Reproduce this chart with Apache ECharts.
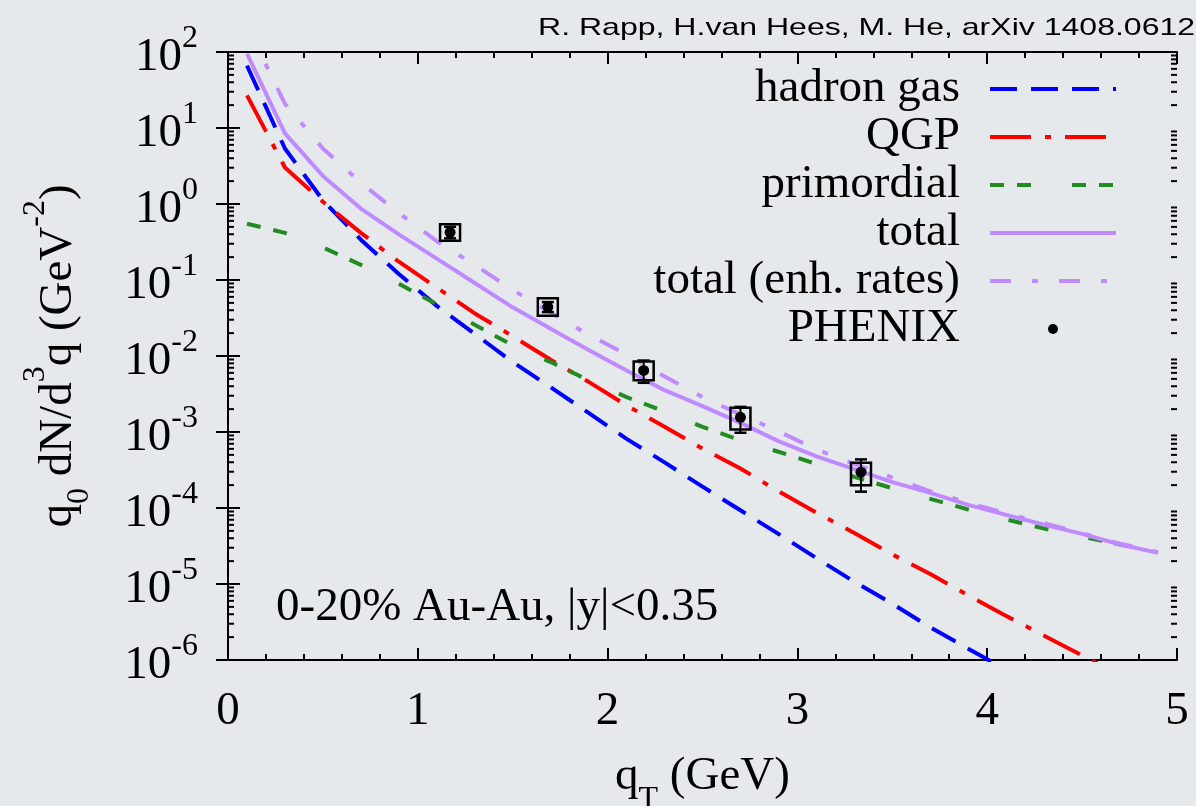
<!DOCTYPE html>
<html><head><meta charset="utf-8">
<script src="https://cdn.jsdelivr.net/npm/echarts@6/dist/echarts.min.js"></script>
<style>html,body{margin:0;padding:0;background:#e6e9ec;} #c{width:1196px;height:806px;}</style>
</head><body><div id="c"></div>
<script>
// ---- data ----
const qT = [0.1,0.3,0.5,0.7,0.9,1.1,1.3,1.5,1.7,1.9,2.1,2.3,2.5,2.7,2.9,3.1,3.3,3.5,3.7,3.9,4.1,4.3,4.5,4.7,4.9];
const hadronGas = [66.1,5.37,1.12,0.339,0.120,0.0457,0.0195,8.32e-3,3.89e-3,1.78e-3,8.13e-4,3.98e-4,1.91e-4,9.33e-5,4.57e-5,2.19e-5,1.07e-5,5.50e-6,2.69e-6,1.41e-6,7.41e-7];
const qgp = [26.9,3.02,1.07,0.417,0.174,0.0794,0.0363,0.0182,8.91e-3,4.57e-3,2.24e-3,1.17e-3,6.03e-4,3.31e-4,1.66e-4,8.71e-5,4.68e-5,2.45e-5,1.35e-5,7.08e-6,3.80e-6,2.09e-6,1.15e-6,6.31e-7];
const primordial = [0.550,0.417,0.269,0.158,0.0891,0.0479,0.0257,0.0138,8.32e-3,4.79e-3,2.88e-3,1.86e-3,1.17e-3,7.76e-4,5.50e-4,3.80e-4,2.57e-4,1.82e-4,1.32e-4,9.55e-5,7.08e-5,5.37e-5,4.17e-5,3.31e-5,2.57e-5];
const total = [95.5,8.51,2.34,0.871,0.398,0.191,0.0912,0.0437,0.0229,0.0120,6.46e-3,3.55e-3,2.19e-3,1.32e-3,7.59e-4,4.79e-4,3.24e-4,2.19e-4,1.58e-4,1.10e-4,8.13e-5,6.03e-5,4.57e-5,3.31e-5,2.57e-5];
const totalEnh = [219,20.9,5.37,1.91,0.759,0.324,0.158,0.0741,0.0372,0.0191,0.0105,5.37e-3,2.88e-3,1.70e-3,1.02e-3,5.89e-4,3.80e-4,2.51e-4,1.66e-4,1.17e-4,8.51e-5,6.31e-5,4.68e-5,3.39e-5,2.63e-5];
// PHENIX points
const phxX = [1.17,1.685,2.19,2.70,3.335];
const phxY = [0.424,0.0440,0.00646,0.00156,2.96e-4];
const phxStatLo = [0.353,0.0378,0.00444,0.000977,1.64e-4];
const phxStatHi = [0.502,0.0512,0.00871,0.00214,4.36e-4];
const phxSysLo = [0.329,0.0338,0.00479,0.00108,1.99e-4];
const phxSysHi = [0.540,0.0577,0.00849,0.00208,3.94e-4];
// axis ticks
const xTickLabels = ['0','1','2','3','4','5'];
const yDecades = [-6,-5,-4,-3,-2,-1,0,1];
const yMinorFactors = [2,3,4,5,6,7,8,9];

const SERIF = "'Liberation Serif','Times New Roman',serif";
const chart = echarts.init(document.getElementById('c'));
function pairs(arr){ return arr.map((v,i)=>[qT[i], v]); }
const minorVals = [];
yDecades.forEach(d => yMinorFactors.forEach(f => minorVals.push([0, f*Math.pow(10,d)])));
const phxData = phxX.map((x,i)=>[x, phxY[i], phxStatLo[i], phxStatHi[i], phxSysLo[i], phxSysHi[i]]);

const axisLineStyle = {color:'#000', width:2};
const tickStyle = {color:'#000', width:2};
const yRich = {
  b:{fontSize:47, fontFamily:SERIF, color:'#000', verticalAlign:'bottom'},
  s:{fontSize:32, fontFamily:SERIF, color:'#000', verticalAlign:'bottom', padding:[0,0,26,0]}
};
function yFmt(v){ const e = Math.round(Math.log10(v)); return '{b|10}{s|' + e + '}'; }

const option = {
  backgroundColor:'#e6e9ec',
  animation:false,
  grid:{left:228, top:52, right:19, bottom:146, containLabel:false, outerBoundsMode:'none'},
  xAxis:[{
    type:'value', min:0, max:5, interval:1, position:'bottom',
    axisLine:{lineStyle:axisLineStyle}, axisTick:{inside:true, length:12, lineStyle:tickStyle},
    minorTick:{show:true, splitNumber:5, length:6, lineStyle:tickStyle},
    splitLine:{show:false}, minorSplitLine:{show:false},
    axisLabel:{fontSize:47, fontFamily:SERIF, color:'#000', margin:28, formatter:(v)=>xTickLabels[Math.round(v)]},
    name:'{b|q}{sub|T}{b| (GeV)}', nameLocation:'middle', nameGap:93,
    nameTextStyle:{rich:{
      b:{fontSize:47, fontFamily:SERIF, color:'#000', verticalAlign:'bottom', padding:[0,0,16,0]},
      sub:{fontSize:32, fontFamily:SERIF, color:'#000', verticalAlign:'bottom'}
    }}
  },{
    type:'value', min:0, max:5, interval:1, position:'top',
    axisLine:{lineStyle:axisLineStyle}, axisTick:{inside:true, length:12, lineStyle:tickStyle},
    minorTick:{show:true, splitNumber:5, length:6, lineStyle:tickStyle},
    splitLine:{show:false}, axisLabel:{show:false}
  }],
  yAxis:[{
    type:'log', logBase:10, min:1e-6, max:100, interval:1, position:'left',
    axisLine:{lineStyle:axisLineStyle}, axisTick:{inside:true, length:12, lineStyle:tickStyle},
    splitLine:{show:false},
    axisLabel:{formatter:yFmt, rich:yRich, margin:30},
    name:'{b|q}{sub|0}{b| dN/d}{sup|3}{b|q (GeV}{sup|-2}{b|)}', nameLocation:'middle', nameGap:132, nameRotate:90,
    nameTextStyle:{rich:{
      b:{fontSize:47, fontFamily:SERIF, color:'#000', verticalAlign:'bottom', padding:[0,0,14,0]},
      sub:{fontSize:32, fontFamily:SERIF, color:'#000', verticalAlign:'bottom'},
      sup:{fontSize:32, fontFamily:SERIF, color:'#000', verticalAlign:'bottom', padding:[0,0,44,0]}
    }}
  },{
    type:'log', logBase:10, min:1e-6, max:100, interval:1, position:'right',
    axisLine:{lineStyle:axisLineStyle}, axisTick:{inside:true, length:12, lineStyle:tickStyle},
    splitLine:{show:false}, axisLabel:{show:false}
  }],
  legend:{
    orient:'vertical', align:'right', right:73, top:60, itemWidth:126, itemHeight:10, itemGap:0, padding:5,
    selectedMode:false,
    textStyle:{fontSize:47, fontFamily:SERIF, color:'#000', lineHeight:48, padding:[0,25,0,0]},
    lineStyle:{width:4},
    itemStyle:{opacity:0},
    data:['hadron gas','QGP','primordial','total','total (enh. rates)',
          {name:'PHENIX', icon:'circle', itemStyle:{opacity:1, color:'#000'}}]
  },
  graphic:[
    {type:'text', x:538, y:16, scaleX:1.335, style:{text:'R. Rapp, H.van Hees, M. He, arXiv 1408.0612', font:'24px "Liberation Sans", Arial, sans-serif', fill:'#000', align:'left', verticalAlign:'top'}},
    {type:'text', x:276, y:608, style:{text:'0-20% Au-Au, |y|<0.35', font:'47px ' + SERIF, fill:'#000', align:'left', verticalAlign:'middle'}}
  ],
  series:[
    {name:'hadron gas', type:'line', data:pairs(hadronGas), symbol:'none', showSymbol:false, z:2,
     lineStyle:{color:'#0000ff', width:4, type:[27,14]}, itemStyle:{color:'#0000ff'}},
    {name:'QGP', type:'line', data:pairs(qgp), symbol:'none', showSymbol:false, z:3,
     lineStyle:{color:'#ff0000', width:4, type:[41,14,6,14]}, itemStyle:{color:'#ff0000'}},
    {name:'primordial', type:'line', data:pairs(primordial), symbol:'none', showSymbol:false, z:4,
     lineStyle:{color:'#228b22', width:4, type:[14,13,14,41]}, itemStyle:{color:'#228b22'}},
    {name:'total', type:'line', data:pairs(total), symbol:'none', showSymbol:false, z:5,
     lineStyle:{color:'#c08aff', width:4, type:'solid'}, itemStyle:{color:'#c08aff'}},
    {name:'total (enh. rates)', type:'line', data:pairs(totalEnh), symbol:'none', showSymbol:false, z:6,
     lineStyle:{color:'#c08aff', width:4, type:[21,21,6,21]}, itemStyle:{color:'#c08aff'}},
    {name:'PHENIX', type:'custom', data:phxData, encode:{x:0, y:1}, z:10, itemStyle:{color:'#000'},
     renderItem:function(params, api){
       const x = api.value(0);
       const c = api.coord([x, api.value(1)]);
       const sl = api.coord([x, api.value(2)])[1], sh = api.coord([x, api.value(3)])[1];
       const yl = api.coord([x, api.value(4)])[1], yh = api.coord([x, api.value(5)])[1];
       const hw = 10, cap = 6;
       return {type:'group', children:[
         {type:'rect', shape:{x:c[0]-hw, y:yh, width:2*hw, height:yl-yh}, style:{fill:'none', stroke:'#000', lineWidth:2.5}},
         {type:'line', shape:{x1:c[0], y1:sh, x2:c[0], y2:sl}, style:{stroke:'#000', lineWidth:2}},
         {type:'line', shape:{x1:c[0]-cap, y1:sh, x2:c[0]+cap, y2:sh}, style:{stroke:'#000', lineWidth:2.5}},
         {type:'line', shape:{x1:c[0]-cap, y1:sl, x2:c[0]+cap, y2:sl}, style:{stroke:'#000', lineWidth:2.5}},
         {type:'circle', shape:{cx:c[0], cy:c[1], r:5.5}, style:{fill:'#000'}}
       ]};
     }},
    {name:'yMinorTicks', type:'custom', data:minorVals, encode:{x:0, y:1}, silent:true, z:1,
     renderItem:function(params, api){
       const p = api.coord([0, api.value(1)]);
       const cs = params.coordSys;
       return {type:'group', children:[
         {type:'line', shape:{x1:cs.x, y1:p[1], x2:cs.x+6, y2:p[1]}, style:{stroke:'#000', lineWidth:2}},
         {type:'line', shape:{x1:cs.x+cs.width-6, y1:p[1], x2:cs.x+cs.width, y2:p[1]}, style:{stroke:'#000', lineWidth:2}}
       ]};
     }}
  ]
};
chart.setOption(option);
</script>
</body></html>
